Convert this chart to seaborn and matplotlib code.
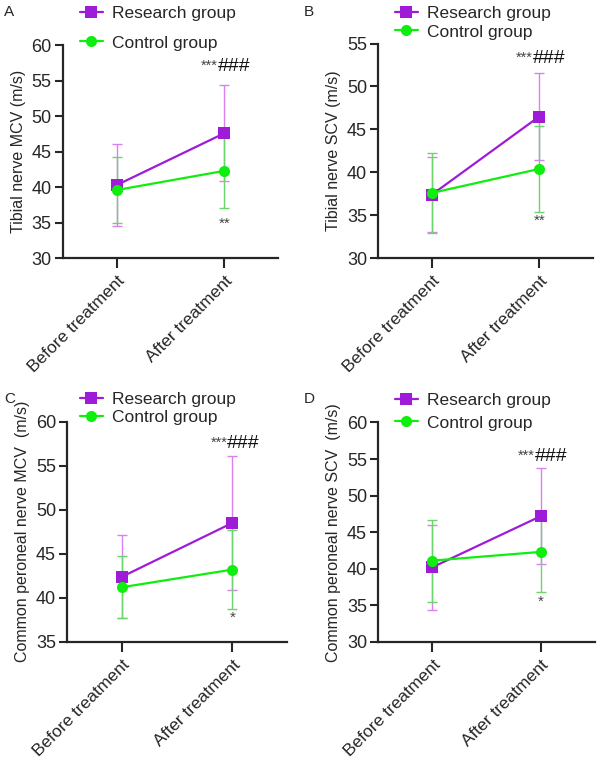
import numpy as np
import pandas as pd
import matplotlib
matplotlib.use("Agg")
import matplotlib.pyplot as plt
import seaborn as sns

# ── data (mean and SD) ──────────────────────────────────────
timepoints = ["Before treatment", "After treatment"]
groups = ["Research group", "Control group"]

tibial_mcv_research = [40.3, 47.6]
tibial_mcv_research_sd = [5.8, 6.8]
tibial_mcv_control = [39.6, 42.3]
tibial_mcv_control_sd = [4.6, 5.2]

tibial_scv_research = [37.4, 46.5]
tibial_scv_research_sd = [4.4, 5.1]
tibial_scv_control = [37.6, 40.4]
tibial_scv_control_sd = [4.7, 5.0]

peroneal_mcv_research = [42.4, 48.5]
peroneal_mcv_research_sd = [4.7, 7.6]
peroneal_mcv_control = [41.2, 43.2]
peroneal_mcv_control_sd = [3.5, 4.5]

peroneal_scv_research = [40.2, 47.2]
peroneal_scv_research_sd = [5.8, 6.6]
peroneal_scv_control = [41.1, 42.3]
peroneal_scv_control_sd = [5.6, 5.5]

panel_letters = ["A", "B", "C", "D"]
ylabels = ["Tibial nerve MCV (m/s)", "Tibial nerve SCV (m/s)",
           "Common peroneal nerve MCV  (m/s)", "Common peroneal nerve SCV  (m/s)"]
ylims = [(30, 60), (30, 55), (35, 60), (30, 60)]
sig_below = ["**", "**", "*", "*"]

# ── style ───────────────────────────────────────────────────
sns.set_style("ticks")
plt.rcParams["font.family"] = ["Liberation Sans", "DejaVu Sans"]

PURPLE = "#9E1CD8"
GREEN = "#10EE10"
PURPLE_ERR = "#DA80F2"
GREEN_ERR = "#6CD46C"
palette = {"Research group": PURPLE, "Control group": GREEN}

fig = plt.figure(figsize=(6.05, 7.64), dpi=100)

# axes boxes in figure fractions [left, bottom, width, height]
boxes = [
    [0.104, 0.662, 0.356, 0.279],
    [0.625, 0.662, 0.355, 0.281],
    [0.111, 0.160, 0.364, 0.288],
    [0.625, 0.160, 0.359, 0.287],
]
# legend anchors (pixels) and row spacing
leg_anchor = [(80, 28), (395, 22.5), (80, 408.5), (395, 411.5)]
leg_spacing = [0.85, 0.22, 0.12, 0.45]
letter_pos = [(4, 12), (304, 12), (4, 399), (304, 399)]
# significance marks: x joint, y of ###, y of lower mark
sig_pos = [(0.94, 56.3, 34.9), (0.94, 52.7, 34.4),
           (0.955, 57.0, 37.7), (0.945, 54.7, 35.5)]

panels = [
    (tibial_mcv_research, tibial_mcv_research_sd, tibial_mcv_control, tibial_mcv_control_sd),
    (tibial_scv_research, tibial_scv_research_sd, tibial_scv_control, tibial_scv_control_sd),
    (peroneal_mcv_research, peroneal_mcv_research_sd, peroneal_mcv_control, peroneal_mcv_control_sd),
    (peroneal_scv_research, peroneal_scv_research_sd, peroneal_scv_control, peroneal_scv_control_sd),
]

W, H = 605, 764
for i, (r, r_sd, c, c_sd) in enumerate(panels):
    ax = fig.add_axes(boxes[i])
    pos = np.arange(len(timepoints))

    # error bars (SD) first, so the lines sit on top
    ax.errorbar(pos, r, yerr=r_sd, fmt="none", ecolor=PURPLE_ERR,
                elinewidth=1.0, capsize=3.6, capthick=1.0, zorder=1)
    ax.errorbar(pos, c, yerr=c_sd, fmt="none", ecolor=GREEN_ERR,
                elinewidth=1.0, capsize=3.6, capthick=1.0, zorder=2)

    df = pd.DataFrame({
        "pos": np.concatenate([pos, pos]),
        "value": np.concatenate([r, c]),
        "group": [groups[0]] * 2 + [groups[1]] * 2,
    })
    sns.lineplot(data=df, x="pos", y="value", hue="group", style="group",
                 palette=palette, markers={"Research group": "s", "Control group": "o"},
                 dashes=False, linewidth=1.6, markersize=8, markeredgewidth=0,
                 ax=ax, zorder=3)

    ax.set_xlim(-0.5, 1.5)
    ax.set_ylim(*ylims[i])
    ax.set_yticks(np.arange(ylims[i][0], ylims[i][1] + 1, 5))
    ax.set_xticks(pos)
    ax.set_xticklabels(timepoints, rotation=45, ha="right",
                       rotation_mode="anchor", fontsize=12.5)
    ax.tick_params(axis="y", labelsize=13, width=1.5, length=6, pad=2)
    ax.tick_params(axis="x", width=1.5, length=7, pad=4)
    ax.set_xlabel("")
    ax.set_ylabel(ylabels[i], fontsize=11.5, labelpad=4)
    for s in ["left", "bottom"]:
        ax.spines[s].set_linewidth(1.6)
    sns.despine(ax=ax)

    # significance marks
    xj, yh, yl = sig_pos[i]
    ax.text(xj, yh + 0.2, "***", ha="right", va="baseline",
            fontsize=10.5, color="#444444")
    ax.text(xj, yh, "###", ha="left", va="baseline",
            fontsize=14, color="#111111")
    ax.text(1.0, yl, sig_below[i], ha="center", va="center",
            fontsize=11, color="#444444")

    # legend above the plot
    handles, labels = ax.get_legend_handles_labels()
    ax.get_legend().remove()
    lx, ly = leg_anchor[i]
    ax.legend(handles, labels, loc="center left",
              bbox_to_anchor=(lx / W, 1 - ly / H), bbox_transform=fig.transFigure,
              frameon=False, fontsize=12.5, borderpad=0, borderaxespad=0,
              handlelength=1.3, handletextpad=0.55, labelspacing=leg_spacing[i])

    px, py = letter_pos[i]
    fig.text(px / W, 1 - py / H, panel_letters[i], fontsize=11,
             ha="left", va="center")

fig.savefig("out.png", dpi=100)
